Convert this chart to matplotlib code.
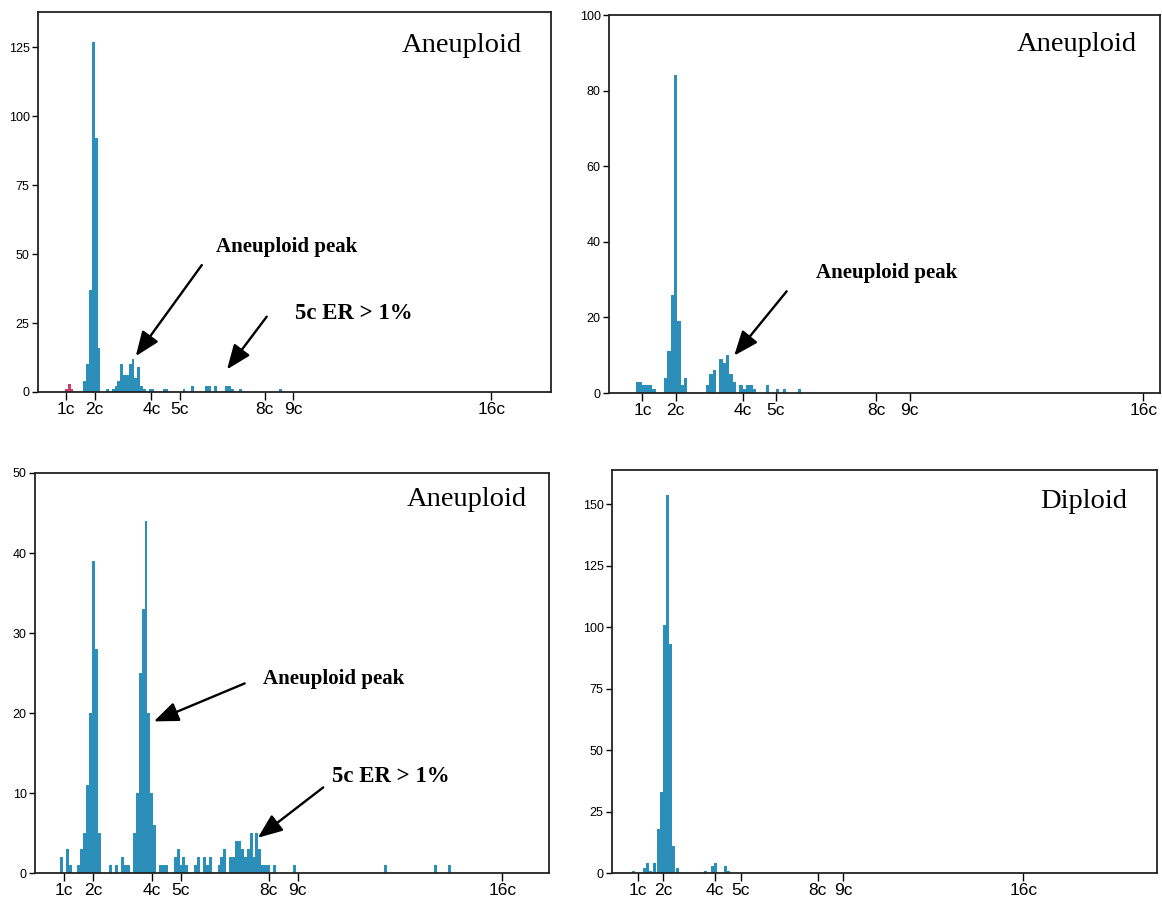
import matplotlib
matplotlib.use("Agg")
import matplotlib.pyplot as plt

# ----------------------------------------------------------------------
# Histogramas de ploidia de DNA (4 painéis), valores lidos da figura
# eixo x em unidades "c", eixo y em número de núcleos
# ----------------------------------------------------------------------

TICK_POS = [1, 2, 4, 5, 8, 9, 16]
TICK_LABELS = ["1c", "2c", "4c", "5c", "8c", "9c", "16c"]

# painel 1 (superior esquerdo) - aneuploide
p1_red_x = [1.0, 1.1, 1.2]
p1_red_n = [1, 3, 1]
p1_x = [1.65, 1.75, 1.85, 1.95, 2.05, 2.15, 2.45,
        2.65, 2.75, 2.85, 2.95, 3.05, 3.15, 3.25, 3.35, 3.45, 3.55, 3.65, 3.75,
        3.95, 4.05, 4.45, 4.55, 5.15, 5.45, 5.95, 6.05, 6.25, 6.65, 6.75, 6.85,
        7.15, 8.55]
p1_n = [4, 10, 37, 127, 92, 16, 1,
        1, 2, 4, 10, 6, 6, 10, 12, 5, 9, 2, 1,
        1, 1, 1, 1, 1, 2, 2, 2, 2, 2, 2, 1,
        1, 1]

# painel 2 (superior direito) - aneuploide
p2_x = [0.85, 0.95, 1.05, 1.15, 1.25, 1.35,
        1.7, 1.8, 1.9, 2.0, 2.1, 2.2, 2.3,
        2.95, 3.05, 3.15, 3.35, 3.45, 3.55, 3.65, 3.75,
        3.95, 4.05, 4.15, 4.25, 4.35, 4.75, 5.05, 5.25, 5.7]
p2_n = [3, 3, 2, 2, 2, 1,
        4, 11, 26, 84, 19, 2, 4,
        2, 5, 6, 9, 8, 10, 5, 3,
        2, 1, 2, 2, 1, 2, 1, 1, 1]

# painel 3 (inferior esquerdo) - aneuploide
p3_x = [0.9, 1.1, 1.2, 1.5, 1.6, 1.7, 1.8, 1.9, 2.0, 2.1, 2.2,
        2.6, 2.8, 3.0, 3.1, 3.2,
        3.4, 3.5, 3.6, 3.7, 3.8, 3.9, 4.0, 4.1,
        4.3, 4.4, 4.5, 4.8, 4.9, 5.0, 5.1, 5.2, 5.5, 5.6, 5.8, 5.9, 6.0,
        6.3, 6.4, 6.5, 6.7, 6.8, 6.9, 7.0, 7.1, 7.2, 7.3, 7.4, 7.5, 7.6,
        7.7, 7.8, 7.9, 8.0, 8.2, 8.9, 12.0, 13.7, 14.2]
p3_n = [2, 3, 1, 1, 3, 5, 11, 20, 39, 28, 5,
        1, 1, 2, 1, 1,
        5, 10, 25, 33, 44, 20, 10, 6,
        1, 1, 1, 2, 3, 1, 2, 1, 1, 2, 2, 1, 2,
        1, 2, 3, 2, 2, 4, 4, 3, 2, 3, 5, 2, 5,
        3, 1, 1, 1, 1, 1, 1, 1, 1]

# painel 4 (inferior direito) - diploide
p4_x = [0.85, 1.27, 1.39, 1.51, 1.67, 1.81, 1.93, 2.05, 2.17, 2.29, 2.41, 2.55,
        3.64, 3.9, 4.02, 4.42, 4.54]
p4_n = [1, 2, 4, 1, 4, 18, 33, 101, 154, 93, 11, 2,
        1, 3, 4, 3, 1]

BLUE = "#2b8fba"
RED = "#d23a68"
W, H = 1162, 901


def px_box(left, right, top, bottom):
    """ Converte caixa em pixels para [x0, y0, w, h] em fração da figura."""
    return [left / W, (H - bottom) / H, (right - left) / W, (bottom - top) / H]


def style_axes(ax, xmax, ymax, yticks):
    ax.set_xlim(0, xmax)
    ax.set_ylim(0, ymax)
    ax.set_xticks(TICK_POS)
    ax.set_xticklabels(TICK_LABELS, fontsize=12.5, family="Liberation Sans")
    ax.set_yticks(yticks)
    ax.set_yticklabels([str(v) for v in yticks], fontsize=9,
                       family="Liberation Sans")
    ax.tick_params(axis="x", direction="out", length=6, width=1, pad=1)
    ax.tick_params(axis="y", direction="out", length=4, width=1, pad=2)
    for s in ax.spines.values():
        s.set_linewidth(1.3)
        s.set_color("#222222")


def add_arrow(ax, label, text_xy, tail, tip, size=15):
    ax.text(text_xy[0], text_xy[1], label, ha="left", va="center",
            fontsize=size, fontweight="bold", family="Liberation Serif")
    ax.annotate("", xy=tip, xytext=tail,
                arrowprops=dict(arrowstyle="-|>,head_length=0.75,head_width=0.3",
                                lw=1.7, color="black", mutation_scale=20,
                                shrinkA=0, shrinkB=0))


def panel_title(ax, label, xf, yf):
    ax.text(xf, yf, label, transform=ax.transAxes, ha="right", va="center",
            fontsize=20.5, family="Liberation Serif")


fig = plt.figure(figsize=(W / 100, H / 100), dpi=100)

# painel 1
ax1 = fig.add_axes(px_box(38, 551, 12, 392))
ax1.bar(p1_red_x, p1_red_n, width=0.1, color=RED, linewidth=0)
ax1.bar(p1_x, p1_n, width=0.1, color=BLUE, linewidth=0)
style_axes(ax1, 18.1, 137.7, [0, 25, 50, 75, 100, 125])
panel_title(ax1, "Aneuploid", 0.943, 0.913)
add_arrow(ax1, "Aneuploid peak", (6.27, 52.5), (5.78, 46), (3.45, 13))
add_arrow(ax1, "5c ER > 1%", (9.07, 28.6), (8.07, 27.3), (6.67, 8.2), size=16.5)

# painel 2
ax2 = fig.add_axes(px_box(609, 1160, 15, 393))
ax2.bar(p2_x, p2_n, width=0.1, color=BLUE, linewidth=0)
style_axes(ax2, 16.5, 100, [0, 20, 40, 60, 80, 100])
panel_title(ax2, "Aneuploid", 0.958, 0.921)
add_arrow(ax2, "Aneuploid peak", (6.2, 31.8), (5.32, 26.9), (3.75, 9.9))

# painel 3
ax3 = fig.add_axes(px_box(35, 549, 473, 873))
ax3.bar(p3_x, p3_n, width=0.1, color=BLUE, linewidth=0)
style_axes(ax3, 17.6, 50, [0, 10, 20, 30, 40, 50])
panel_title(ax3, "Aneuploid", 0.957, 0.933)
add_arrow(ax3, "Aneuploid peak", (7.8, 24.3), (7.18, 23.7), (4.07, 18.95))
add_arrow(ax3, "5c ER > 1%", (10.18, 12.0), (9.87, 10.7), (7.63, 4.4), size=16.5)

# painel 4
ax4 = fig.add_axes(px_box(612, 1157, 470, 873))
ax4.bar(p4_x, p4_n, width=0.12, color=BLUE, linewidth=0)
style_axes(ax4, 21.2, 164, [0, 25, 50, 75, 100, 125, 150])
panel_title(ax4, "Diploid", 0.945, 0.921)

fig.savefig("out.png", dpi=100)
